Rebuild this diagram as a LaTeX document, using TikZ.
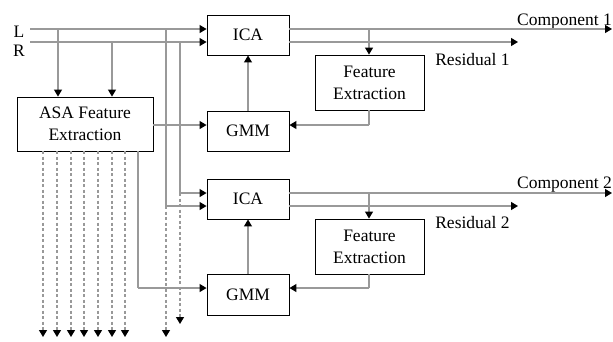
\documentclass[tikz,border=0pt]{standalone}
\usepackage{fontspec}
\setmainfont{Liberation Serif}
\usetikzlibrary{arrows.meta,calc}
\begin{document}
\begin{tikzpicture}[x=1pt,y=-1pt,
  box/.style={draw=black,line width=0.9pt,minimum width=82pt,minimum height=40pt,inner sep=0pt,align=center,font=\fontsize{17.5}{22}\selectfont},
  febox/.style={box,minimum width=109pt,minimum height=55pt},
  lbl/.style={font=\fontsize{17.5}{22}\selectfont,inner sep=0pt},
  wire/.style={draw=black!40,line width=1.2pt},
  arr/.style={wire,-{Triangle[length=7pt,width=8pt,color=black,fill=black]}},
  dwire/.style={arr,dash pattern=on 3pt off 2.5pt}]
\useasboundingbox (0,0) rectangle (613,341);
% boxes
\node[box] (ica1) at (248,35) {ICA};
\node[box] (gmm1) at (248,131) {GMM};
\node[box,minimum width=136pt,minimum height=54pt] (asa) at (85,124) {ASA Feature\\Extraction};
\node[febox] (fe1) at (369.5,82.5) {Feature\\Extraction};
\node[box] (ica2) at (248,199) {ICA};
\node[box,minimum height=41pt] (gmm2) at (248,294.5) {GMM};
\node[febox] (fe2) at (369.5,246.5) {Feature\\Extraction};
% labels
\node[lbl] (lL) at (19,32) {L};
\node[lbl] (lR) at (19,51) {R};
\node[lbl,anchor=base] (c1) at (564.5,25) {Component 1};
\node[lbl,anchor=base] (r1) at (472.5,65) {Residual 1};
\node[lbl,anchor=base] (c2) at (564.5,188.5) {Component 2};
\node[lbl,anchor=base] (r2) at (472.5,228) {Residual 2};
% coordinates
\coordinate (Ls) at (30,29);
\coordinate (Rs) at (30,42);
\coordinate (La) at (58,29);
\coordinate (Ra) at (112,42);
\coordinate (Lv) at (166,29);
\coordinate (Rv) at (180,42);
\coordinate (Lb) at (166,206);
\coordinate (Rb) at (180,193);
\coordinate (Le) at (166,337);
\coordinate (Re) at (180,324);
\coordinate (c1e) at (612,29);
\coordinate (r1e) at (518,42);
\coordinate (c2e) at (612,193);
\coordinate (r2e) at (518,206);
\coordinate (b1) at (369,29);
\coordinate (b2) at (369,193);
\coordinate (f1) at (369,125);
\coordinate (f2) at (369,288);
\coordinate (ab) at (138,151);
\coordinate (ac) at (138,288);
% inputs
\draw[arr] (Ls) -- ([yshift=6pt]ica1.west);
\draw[arr] (Rs) -- ([yshift=-7pt]ica1.west);
\draw[arr] (La) -- (La |- asa.north);
\draw[arr] (Ra) -- (Ra |- asa.north);
\draw[wire] (Lv) -- (Lb);
\draw[wire] (Rv) -- (Rb);
\draw[arr] (Lb) -- ([yshift=-7pt]ica2.west);
\draw[arr] (Rb) -- ([yshift=6pt]ica2.west);
\draw[dwire] (Lb) -- (Le);
\draw[dwire] (Rb) -- (Re);
% ASA outputs
\draw[arr] (asa.east |- 0,125) -- ([yshift=6pt]gmm1.west);
\draw[wire] (ab) -- (ac);
\draw[arr] (ac) -- ([yshift=6.5pt]gmm2.west);
\foreach \x in {43,57,71,84,98,112,125}
  \draw[dwire] (\x,151) -- (\x,337);
% block 1
\draw[arr] (gmm1.north) -- (ica1.south);
\draw[arr] ([yshift=6pt]ica1.east) -- (c1e);
\draw[arr] ([yshift=-7pt]ica1.east) -- (r1e);
\draw[arr] (b1) -- (fe1.north -| b1);
\draw[wire] (fe1.south -| f1) -- (f1);
\draw[arr] (f1) -- ([yshift=6pt]gmm1.east);
% block 2
\draw[arr] (gmm2.north) -- (ica2.south);
\draw[arr] ([yshift=6pt]ica2.east) -- (c2e);
\draw[arr] ([yshift=-7pt]ica2.east) -- (r2e);
\draw[arr] (b2) -- (fe2.north -| b2);
\draw[wire] (fe2.south -| f2) -- (f2);
\draw[arr] (f2) -- ([yshift=6.5pt]gmm2.east);
\end{tikzpicture}
\end{document}
